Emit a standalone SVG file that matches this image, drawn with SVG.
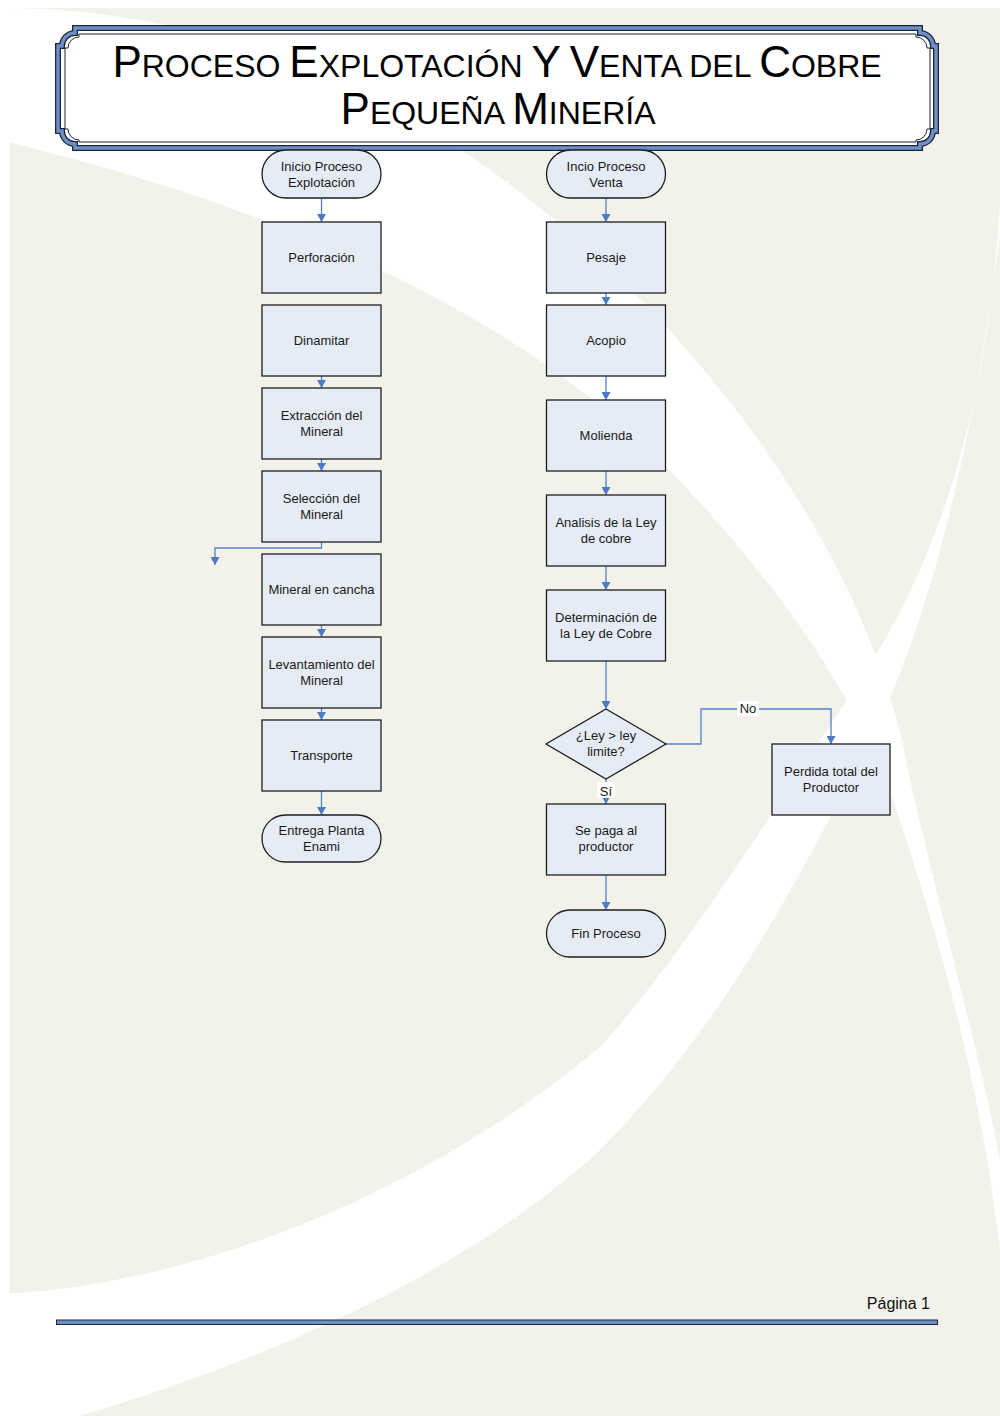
<svg xmlns="http://www.w3.org/2000/svg" width="1000" height="1416" viewBox="0 0 1000 1416">
<defs>
<style>
.node{fill:#E6ECF6;stroke:#1E1E1E;stroke-width:1.3}
.t{font-family:"Liberation Sans",Arial,sans-serif;font-size:13px;fill:#1A1A1A;text-anchor:middle}
.c{fill:none;stroke:#5182C8;stroke-width:1.3}
.ttl{font-family:"Liberation Sans",Arial,sans-serif;fill:#000;text-anchor:middle}
</style>
<marker id="arr" viewBox="0 0 8 9" refX="8" refY="4.5" markerWidth="8" markerHeight="9" markerUnits="userSpaceOnUse" orient="auto">
<path d="M0,0 L8,4.5 L0,9 z" fill="#4A7CC4"/>
</marker>
</defs>

<!-- page background -->
<rect x="0" y="0" width="1000" height="1416" fill="#FFFFFF"/>
<rect x="10" y="8" width="990" height="1408" fill="#F2F2EA"/>
<g id="swooshes" fill="#FFFFFF">
<path d="M0,8 C250,8 450,120 600,260 C760,410 880,600 910,780 C950,950 990,1100 1000,1160 L1000,1250 C980,1080 940,940 893,800 C850,680 760,560 640,440 C520,330 330,220 0,140 Z"/>
<path d="M1000,200 C990,400 940,560 860,680 C780,800 680,960 600,1047 C430,1190 200,1285 0,1294 L0,1416 L80,1416 C300,1350 480,1260 600,1150 C720,1030 800,880 880,720 C932,610 978,430 1004,200 Z"/>
</g>

<!-- title plaque -->
<g id="title">
<path d="M75,28 H920 V33 A13,13 0 0 1 933,46 H936 V131 H933 A13,13 0 0 1 920,144 V148 H75 V144 A13,13 0 0 1 62,131 H58 V46 H62 A13,13 0 0 1 75,33 Z" fill="#FFFFFF" stroke="#1C2636" stroke-width="6" stroke-linejoin="miter"/>
<path d="M75,28 H920 V33 A13,13 0 0 1 933,46 H936 V131 H933 A13,13 0 0 1 920,144 V148 H75 V144 A13,13 0 0 1 62,131 H58 V46 H62 A13,13 0 0 1 75,33 Z" fill="none" stroke="#6E90C6" stroke-width="3.4" stroke-linejoin="miter"/>
<path d="M79,34 H916 V37 A11,11 0 0 1 927,48 H930 V129 H927 A11,11 0 0 1 916,140 V142 H79 V140 A11,11 0 0 1 68,129 H65 V48 H68 A11,11 0 0 1 79,37 Z" fill="#FFFFFF" stroke="#1C2636" stroke-width="1"/>
<text class="ttl" x="497" y="77" font-size="32"><tspan font-size="44">P</tspan>ROCESO <tspan font-size="44">E</tspan>XPLOTACIÓN <tspan font-size="44">Y</tspan> <tspan font-size="44">V</tspan>ENTA DEL <tspan font-size="44">C</tspan>OBRE</text>
<text class="ttl" x="498" y="124" font-size="32"><tspan font-size="44">P</tspan>EQUEÑA <tspan font-size="44">M</tspan>INERÍA</text>
</g>

<!-- connectors -->
<g id="connectors">
<path class="c" d="M321.5,198 V222" marker-end="url(#arr)"/>
<path class="c" d="M321.5,376 V388" marker-end="url(#arr)"/>
<path class="c" d="M321.5,459 V471" marker-end="url(#arr)"/>
<path class="c" d="M321.5,542 V548 H215 V565" marker-end="url(#arr)"/>
<path class="c" d="M321.5,625 V637" marker-end="url(#arr)"/>
<path class="c" d="M321.5,708 V720" marker-end="url(#arr)"/>
<path class="c" d="M321.5,791 V815" marker-end="url(#arr)"/>

<path class="c" d="M606,198 V222" marker-end="url(#arr)"/>
<path class="c" d="M606,293 V305" marker-end="url(#arr)"/>
<path class="c" d="M606,376 V400" marker-end="url(#arr)"/>
<path class="c" d="M606,471 V495" marker-end="url(#arr)"/>
<path class="c" d="M606,566 V590" marker-end="url(#arr)"/>
<path class="c" d="M606,661 V709" marker-end="url(#arr)"/>
<path class="c" d="M666,744 H701 V709 H831 V744" marker-end="url(#arr)"/>
<path class="c" d="M606,779 V804" marker-end="url(#arr)"/>
<path class="c" d="M606,875 V910" marker-end="url(#arr)"/>
<rect x="737" y="701" width="22" height="15" fill="#FFFFFF"/>
<text class="t" x="748" y="713">No</text>
<rect x="597" y="782" width="18" height="16" fill="#FFFFFF"/>
<text class="t" x="606" y="796">Sí</text>
</g>

<!-- left column -->
<g id="n_inicio_exp"><rect class="node" x="262" y="150" width="119" height="48" rx="24"/><text class="t" x="321.5" y="171">Inicio Proceso</text><text class="t" x="321.5" y="187">Explotación</text></g>
<g id="n_perforacion"><rect class="node" x="262" y="222" width="119" height="71"/><text class="t" x="321.5" y="262">Perforación</text></g>
<g id="n_dinamitar"><rect class="node" x="262" y="305" width="119" height="71"/><text class="t" x="321.5" y="345">Dinamitar</text></g>
<g id="n_extraccion"><rect class="node" x="262" y="388" width="119" height="71"/><text class="t" x="321.5" y="420">Extracción del</text><text class="t" x="321.5" y="436">Mineral</text></g>
<g id="n_seleccion"><rect class="node" x="262" y="471" width="119" height="71"/><text class="t" x="321.5" y="503">Selección del</text><text class="t" x="321.5" y="519">Mineral</text></g>
<g id="n_cancha"><rect class="node" x="262" y="554" width="119" height="71"/><text class="t" x="321.5" y="594">Mineral en cancha</text></g>
<g id="n_levantamiento"><rect class="node" x="262" y="637" width="119" height="71"/><text class="t" x="321.5" y="669">Levantamiento del</text><text class="t" x="321.5" y="685">Mineral</text></g>
<g id="n_transporte"><rect class="node" x="262" y="720" width="119" height="71"/><text class="t" x="321.5" y="760">Transporte</text></g>
<g id="n_entrega"><rect class="node" x="262" y="815" width="119" height="47" rx="23.5"/><text class="t" x="321.5" y="835">Entrega Planta</text><text class="t" x="321.5" y="851">Enami</text></g>

<!-- right column -->
<g id="n_inicio_venta"><rect class="node" x="546.5" y="150" width="119" height="48" rx="24"/><text class="t" x="606" y="171">Incio Proceso</text><text class="t" x="606" y="187">Venta</text></g>
<g id="n_pesaje"><rect class="node" x="546.5" y="222" width="119" height="71"/><text class="t" x="606" y="262">Pesaje</text></g>
<g id="n_acopio"><rect class="node" x="546.5" y="305" width="119" height="71"/><text class="t" x="606" y="345">Acopio</text></g>
<g id="n_molienda"><rect class="node" x="546.5" y="400" width="119" height="71"/><text class="t" x="606" y="440">Molienda</text></g>
<g id="n_analisis"><rect class="node" x="546.5" y="495" width="119" height="71"/><text class="t" x="606" y="527">Analisis de la Ley</text><text class="t" x="606" y="543">de cobre</text></g>
<g id="n_determinacion"><rect class="node" x="546.5" y="590" width="119" height="71"/><text class="t" x="606" y="622">Determinación de</text><text class="t" x="606" y="638">la Ley de Cobre</text></g>
<g id="n_decision"><path class="node" d="M606,709 L666,744 L606,779 L546,744 Z"/><text class="t" x="606" y="740">¿Ley &gt; ley</text><text class="t" x="606" y="756">limite?</text></g>
<g id="n_perdida"><rect class="node" x="772" y="744" width="118" height="71"/><text class="t" x="831" y="776">Perdida total del</text><text class="t" x="831" y="792">Productor</text></g>
<g id="n_paga"><rect class="node" x="546.5" y="804" width="119" height="71"/><text class="t" x="606" y="835">Se paga al</text><text class="t" x="606" y="851">productor</text></g>
<g id="n_fin"><rect class="node" x="546.5" y="910" width="119" height="47" rx="23.5"/><text class="t" x="606" y="938">Fin Proceso</text></g>

<!-- footer -->
<g id="footer">
<text x="930" y="1309" font-family="'Liberation Sans',Arial,sans-serif" font-size="16" fill="#111" text-anchor="end">Página 1</text>
<rect x="56.5" y="1320" width="881" height="4.5" fill="#6E90C6" stroke="#1C2636" stroke-width="1"/>
</g>
</svg>
